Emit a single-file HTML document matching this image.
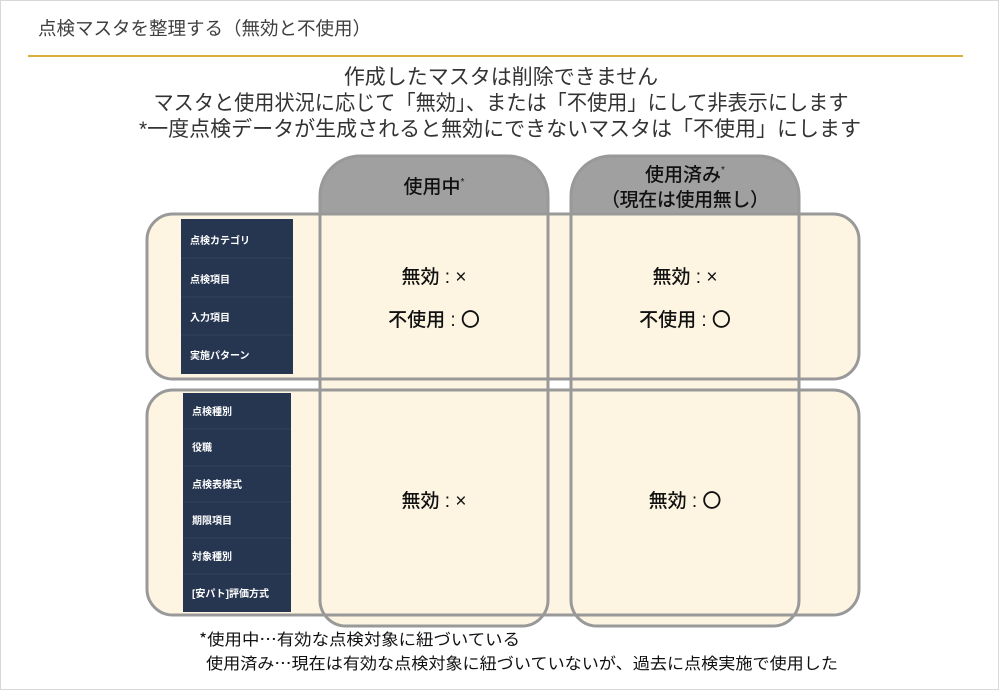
<!DOCTYPE html>
<html><head><meta charset="utf-8"><style>
html,body{margin:0;padding:0;background:#fff}
svg{display:block}
text{font-family:"Liberation Sans","Noto Sans CJK JP",sans-serif}
.j{font-family:"Noto Sans CJK JP",sans-serif}
</style></head><body>
<svg width="999" height="690" viewBox="0 0 999 690" xmlns="http://www.w3.org/2000/svg">
<rect x="0.5" y="0.5" width="998" height="689" fill="#fff" stroke="#d8d8d8"/>
<text x="38" y="35" font-size="18.5" fill="#404040">点検マスタを整理する（無効と不使用）</text>
<rect x="28" y="55" width="935" height="2" fill="#d9ae3c"/>
<g font-size="21" fill="#333" text-anchor="middle">
<text x="501" y="84">作成したマスタは削除できません</text>
<text x="501" y="110" textLength="695" lengthAdjust="spacingAndGlyphs">マスタと使用状況に応じて「無効」、または「不使用」にして非表示にします</text>
<text x="500" y="136" textLength="722" lengthAdjust="spacingAndGlyphs">*一度点検データが生成されると無効にできないマスタは「不使用」にします</text>
</g>
<!-- fills -->
<rect x="147" y="214" width="712" height="165" rx="26" fill="#fdf5e1"/>
<rect x="147" y="390" width="712" height="225" rx="26" fill="#fdf5e1"/>
<path d="M320 213 V196 a40 40 0 0 1 40 -40 H508 a40 40 0 0 1 40 40 V213 Z" fill="#a0a0a0"/>
<path d="M571 213 V196 a40 40 0 0 1 40 -40 H759 a40 40 0 0 1 40 40 V213 Z" fill="#a0a0a0"/>
<path d="M320 213 V600 a26 26 0 0 0 26 26 H522 a26 26 0 0 0 26 -26 V213 Z" fill="#fdf5e1"/>
<path d="M571 213 V600 a26 26 0 0 0 26 26 H773 a26 26 0 0 0 26 -26 V213 Z" fill="#fdf5e1"/>
<!-- dark panels -->
<rect x="181" y="219" width="112" height="155" fill="#263650"/>
<g stroke="#33435c" stroke-width="1">
<line x1="181" y1="258" x2="293" y2="258"/><line x1="181" y1="297" x2="293" y2="297"/><line x1="181" y1="335" x2="293" y2="335"/>
</g>
<rect x="183" y="393" width="108" height="219" fill="#263650"/>
<g stroke="#33435c" stroke-width="1">
<line x1="183" y1="429" x2="291" y2="429"/><line x1="183" y1="466" x2="291" y2="466"/><line x1="183" y1="502" x2="291" y2="502"/><line x1="183" y1="538" x2="291" y2="538"/><line x1="183" y1="574" x2="291" y2="574"/>
</g>
<g font-size="10" font-weight="bold" fill="#fff">
<text x="190" y="244">点検カテゴリ</text>
<text x="190" y="283">点検項目</text>
<text x="190" y="321">入力項目</text>
<text x="190" y="359">実施パターン</text>
<text x="192" y="415">点検種別</text>
<text x="192" y="451">役職</text>
<text x="192" y="488">点検表様式</text>
<text x="192" y="524">期限項目</text>
<text x="192" y="560">対象種別</text>
<text x="192" y="597">[安パト]評価方式</text>
</g>
<!-- strokes -->
<g fill="none" stroke="#999" stroke-width="3">
<rect x="147" y="214" width="712" height="165" rx="26"/>
<rect x="147" y="390" width="712" height="225" rx="26"/>
<path d="M320 213 V196 a40 40 0 0 1 40 -40 H508 a40 40 0 0 1 40 40 V213"/>
<path d="M571 213 V196 a40 40 0 0 1 40 -40 H759 a40 40 0 0 1 40 40 V213"/>
<path d="M320 196 V600 a26 26 0 0 0 26 26 H522 a26 26 0 0 0 26 -26 V196"/>
<path d="M571 196 V600 a26 26 0 0 0 26 26 H773 a26 26 0 0 0 26 -26 V196"/>
</g>
<g font-size="19" fill="#111" text-anchor="middle" font-weight="500">
<text x="434" y="193">使用中<tspan font-size="10" dy="-8">*</tspan></text>
<text x="685" y="181">使用済み<tspan font-size="10" dy="-8">*</tspan></text>
<text x="685" y="206" class="j" textLength="168">（現在は使用無し）</text>
<text x="434" y="283">無効 : ×</text>
<text x="434" y="326">不使用 : 〇</text>
<text x="685" y="283">無効 : ×</text>
<text x="685" y="326">不使用 : 〇</text>
<text x="434" y="507">無効 : ×</text>
<text x="685" y="507">無効 : 〇</text>
</g>
<g font-size="16" fill="#111" class="j">
<text x="199" y="645" class="j" textLength="321" lengthAdjust="spacingAndGlyphs">*使用中…有効な点検対象に紐づいている</text>
<text x="206" y="669" class="j" textLength="632" lengthAdjust="spacingAndGlyphs">使用済み…現在は有効な点検対象に紐づいていないが、過去に点検実施で使用した</text>
</g>
</svg>
</body></html>
